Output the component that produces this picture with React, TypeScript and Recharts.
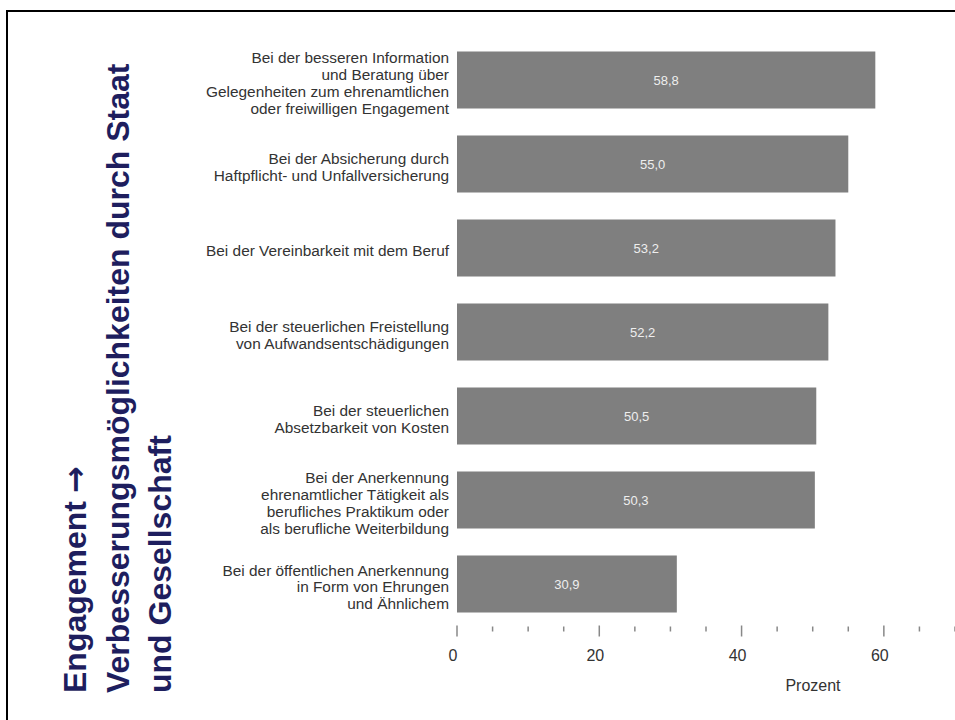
import { BarChart, Bar, XAxis, YAxis, LabelList } from 'recharts';

const categories = [
    'Bei der besseren Information\nund Beratung über\nGelegenheiten zum ehrenamtlichen\noder freiwilligen Engagement',
    'Bei der Absicherung durch\nHaftpflicht- und Unfallversicherung',
    'Bei der Vereinbarkeit mit dem Beruf',
    'Bei der steuerlichen Freistellung\nvon Aufwandsentschädigungen',
    'Bei der steuerlichen\nAbsetzbarkeit von Kosten',
    'Bei der Anerkennung\nehrenamtlicher Tätigkeit als\nberufliches Praktikum oder\nals berufliche Weiterbildung',
    'Bei der öffentlichen Anerkennung\nin Form von Ehrungen\nund Ähnlichem',
];
const values = [58.8, 55.0, 53.2, 52.2, 50.5, 50.3, 30.9];
const xTicks = [0, 5, 10, 15, 20, 25, 30, 35, 40, 45, 50, 55, 60, 65, 70];
const xTickLabels = [0, 20, 40, 60];
const titleLines = ['Engagement', 'Verbesserungsmöglichkeiten durch Staat', 'und Gesellschaft'];
const titleArrow = '→';
const axisTitle = 'Prozent';

const FONT = '"Liberation Sans", Arial, sans-serif';

const data = categories.map((name, i) => ({ name, value: values[i] }));

const CategoryTick = ({ x, y, payload }: any) => {
    const lines = String(payload.value).split('\n');
    const lh = 16.7;
    const start = y + 3.5 - ((lines.length - 1) * lh) / 2;
    return (
        <text x={x} y={start} textAnchor="end" fontSize={15.4} fill="#333" fontFamily={FONT}>
            {lines.map((line, i) => (
                <tspan key={i} x={x} y={start + i * lh} dy="0.355em">
                    {line}
                </tspan>
            ))}
        </text>
    );
};

const PercentTick = ({ x, y, payload }: any) => {
    const v = payload.value as number;
    const major = xTickLabels.includes(v);
    return (
        <g>
            <line
                x1={x}
                x2={x}
                y1={y + (major ? 0 : 1)}
                y2={y + (major ? 11 : 6)}
                stroke="#888"
                strokeWidth={1.5}
            />
            {major && (
                <text x={x - 4} y={y + 35} textAnchor="middle" fontSize={16} fill="#333" fontFamily={FONT}>
                    {v}
                </text>
            )}
        </g>
    );
};

const App = () => {
    return (
        <div style={{
            position: 'absolute',
            left: 0,
            top: 0,
            width: 955,
            height: 720,
            overflow: 'hidden',
            background: '#fff',
        }}>
            <svg width={955} height={720} style={{ position: 'absolute', left: 0, top: 0 }}>
                <rect x={7} y={11} width={1000} height={800} fill="none" stroke="#000" strokeWidth={2} />
                {titleLines.map((line, i) => (
                    <text
                        key={i}
                        transform={`translate(${86 + i * 42.5}, 693) rotate(-90)`}
                        fontSize={32}
                        fontWeight="bold"
                        fill="#1e1e5e"
                        fontFamily={FONT}
                    >
                        {line}
                        {i === 0 && (
                            <tspan fontFamily='"DejaVu Sans", sans-serif' dx={8}>{titleArrow}</tspan>
                        )}
                    </text>
                ))}
                <text x={813} y={691} textAnchor="middle" fontSize={16} fill="#333" fontFamily={FONT}>
                    {axisTitle}
                </text>
            </svg>
            <div style={{ position: 'absolute', left: 0, top: 0 }}>
                <BarChart
                    width={955}
                    height={720}
                    data={data}
                    layout="vertical"
                    margin={{ top: 37.5, right: 0, bottom: 34.5, left: 0 }}
                >
                    <XAxis
                        type="number"
                        domain={[0, 70]}
                        ticks={xTicks}
                        interval={0}
                        height={60}
                        axisLine={false}
                        tickLine={false}
                        tickSize={0}
                        tickMargin={0}
                        tick={<PercentTick />}
                    />
                    <YAxis
                        type="category"
                        dataKey="name"
                        width={457}
                        axisLine={false}
                        tickLine={false}
                        tickSize={0}
                        tickMargin={8}
                        interval={0}
                        tick={<CategoryTick />}
                    />
                    <Bar dataKey="value" fill="#7f7f7f" barSize={57} isAnimationActive={false}>
                        <LabelList
                            dataKey="value"
                            position="center"
                            fill="#eeeeee"
                            fontSize={13}
                            fontFamily={FONT}
                            formatter={(v: any) => Number(v).toFixed(1).replace('.', ',')}
                        />
                    </Bar>
                </BarChart>
            </div>
        </div>
    );
};

export default App;
